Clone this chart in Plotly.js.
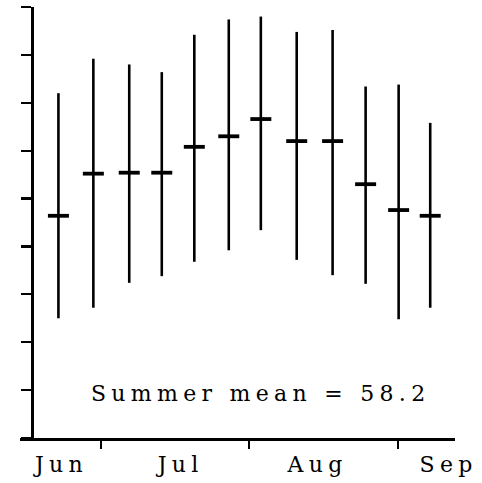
<!DOCTYPE html>
<html>
<head>
<meta charset="utf-8">
<script src="https://cdn.plot.ly/plotly-3.0.1.min.js"></script>
<style>
  html, body { margin: 0; padding: 0; background: #fff; }
  #chart { width: 482px; height: 483px; }
  .annotation-text, .xtick text { letter-spacing: 5.3px !important; }
</style>
</head>
<body>
<div id="chart"></div>
<script>
// x: days counted from 1 June (Jul 1 = 30, Aug 1 = 61, Sep 1 = 92)
const weekDays = [21.1, 28.4, 35.9, 42.7, 49.5, 56.7, 63.4, 70.9, 78.4, 85.3, 92.2, 98.8];
const weekHigh = [66.0, 69.6, 69.0, 68.2, 72.1, 73.7, 74.0, 72.4, 72.6, 66.7, 66.9, 62.9];
const weekMean = [53.2, 57.6, 57.7, 57.7, 60.4, 61.5, 63.3, 61.0, 61.0, 56.5, 53.8, 53.2];
const weekLow  = [42.5, 43.6, 46.2, 46.9, 48.4, 49.6, 51.7, 48.6, 47.0, 46.1, 42.4, 43.6];

const monthBoundaries = [30, 61, 92];
const monthLabelPos = [21.75, 46.65, 75.25, 102.65];
const monthLabels = ["Jun", "Jul", "Aug", "Sep"];
const yTicks = [30, 35, 40, 45, 50, 55, 60, 65, 70, 75];
const summerMean = 58.2;

const up = weekHigh.map((h, i) => h - weekMean[i]);
const down = weekLow.map((l, i) => weekMean[i] - l);

const trace = {
  type: "scatter",
  mode: "markers",
  x: weekDays,
  y: weekMean,
  marker: { symbol: "line-ew", size: 15, color: "#000", line: { color: "#000", width: 3.8 } },
  error_y: { type: "data", symmetric: false, array: up, arrayminus: down,
             color: "#000", thickness: 2.6, width: 0 },
  hoverinfo: "skip",
  showlegend: false
};

const font = { family: "DejaVu Serif, serif", size: 22, color: "#000" };

const layout = {
  width: 482, height: 483,
  margin: { l: 20, r: 27, t: 7, b: 45, pad: 0 },
  paper_bgcolor: "#fff", plot_bgcolor: "#fff",
  showlegend: false,
  xaxis: {
    range: [13.07, 103.98],
    showline: true, linecolor: "#000", linewidth: 2.5,
    showgrid: false, zeroline: false,
    tickmode: "array", tickvals: monthLabelPos, ticktext: monthLabels,
    ticks: "", ticklabelstandoff: 5,
    tickfont: font,
    minor: { tickmode: "array", tickvals: monthBoundaries, ticks: "outside",
             ticklen: 8, tickwidth: 2.2, tickcolor: "#000", showgrid: false }
  },
  yaxis: {
    range: [30, 75],
    anchor: "free", position: 0.0287,
    showline: true, linecolor: "#000", linewidth: 2.5,
    showgrid: false, zeroline: false,
    tickmode: "array", tickvals: yTicks,
    ticks: "outside", ticklen: 10, tickwidth: 2.2, tickcolor: "#000",
    showticklabels: false
  },
  annotations: [{
    xref: "paper", yref: "paper", x: 0.552, y: 0.104,
    xanchor: "center", yanchor: "middle",
    text: "Summer mean = " + summerMean.toFixed(1),
    showarrow: false, font: font
  }]
};

Plotly.newPlot("chart", [trace], layout, { staticPlot: true, displayModeBar: false });
</script>
</body>
</html>
